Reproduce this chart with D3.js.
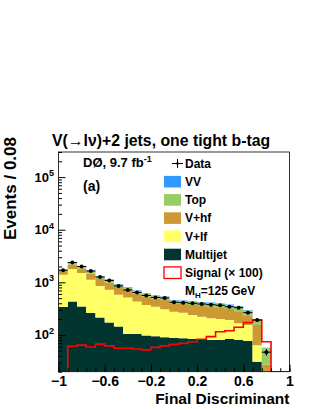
<!DOCTYPE html>
<html>
<head>
<meta charset="utf-8">
<script src="https://cdn.jsdelivr.net/npm/d3@7"></script>
<style>
  body { margin: 0; background: #fff; }
  text { font-family: "Liberation Sans", Arial, sans-serif; font-weight: bold; fill: #000; }
</style>
</head>
<body>
<svg id="chart"></svg>
<script>
// bins of width 0.08 from -1 to 1 (low edges)
var binLow = [-1, -0.92, -0.84, -0.76, -0.68, -0.6, -0.52, -0.44, -0.36, -0.28, -0.2, -0.12, -0.04,
              0.04, 0.12, 0.2, 0.28, 0.36, 0.44, 0.52, 0.6, 0.68, 0.76, 0.84, 0.92];
var binWidth = 0.08;

// background stack, bottom to top
var multijet = [340, 432, 347, 261, 214, 172, 145, 104, 104, 98, 94, 90, 87, 86, 84, 82, 80, 80, 84, 80, 77, 31, 2, 0, 0];
var vlf      = [1056, 1359, 1157, 861, 638, 552, 437, 411, 328, 273, 250, 217, 189, 179, 155, 140, 127, 121, 108, 86, 78, 33, 5, 0, 0];
var vhf      = [283, 391, 328, 350, 304, 269, 233, 200, 182, 167, 149, 154, 123, 122, 132, 133, 133, 124, 119, 107, 74, 91, 20, 0, 0];
var topq     = [75, 200, 168, 170, 135, 115, 95, 83, 70, 62, 57, 65, 53, 55, 52, 59, 65, 62, 60, 74, 62, 42, 29, 0, 0];
var vv       = [24, 52, 42, 37, 27, 24, 19, 17, 16, 14, 12, 12, 9, 10, 10, 9, 9, 9, 8, 8, 7, 4, 1, 0, 0];

var dataCounts = [1694, 2382, 2000, 1642, 1262, 1084, 852, 715, 641, 562, 515, 504, 417, 410, 399, 387, 376, 366, 344, 330, 265, 192, 47, 0, 0];
var signal100  = [0, 61, 64, 59, 67, 62, 56, 56, 54, 52, 58, 62, 66, 69, 74, 83, 93, 115, 120, 140, 171, 192, 74, 0, 0];

var xTicks = [-1, -0.6, -0.2, 0.2, 0.6, 1];
var yTicks = [1e2, 1e3, 1e4, 1e5];

var layers = [
  {name: "Multijet", values: multijet, color: "#023530"},
  {name: "V+lf", values: vlf, color: "#ffff66"},
  {name: "V+hf", values: vhf, color: "#cc9933"},
  {name: "Top", values: topq, color: "#99cc66"},
  {name: "VV", values: vv, color: "#3399ff"}
];

var screen = {width: 316, height: 409};
var frame = {left: 58.5, right: 289.5, top: 152, bottom: 371.7};

var svg = d3.select("#chart")
    .attr("width", screen.width)
    .attr("height", screen.height);

var xScale = d3.scaleLinear().domain([-1, 1]).range([frame.left, frame.right]);
var yScale = d3.scaleLog().domain([20, 3e5]).range([frame.bottom, frame.top]).clamp(true);

var ySafe = function(v) { return yScale(Math.max(v, 1e-3)); };

// build stacked table
var table = binLow.map(function(lo, i) {
  var row = {lo: lo};
  layers.forEach(function(l) { row[l.name] = l.values[i]; });
  return row;
});
var stack = d3.stack().keys(layers.map(function(l) { return l.name; }))(table);

var plot = svg.append("g");

// clip to the frame
svg.append("clipPath").attr("id", "frameclip")
  .append("rect")
  .attr("x", frame.left).attr("y", frame.top)
  .attr("width", frame.right - frame.left).attr("height", frame.bottom - frame.top);
plot.attr("clip-path", "url(#frameclip)");

var area = d3.area()
    .curve(d3.curveStepAfter)
    .x(function(d) { return xScale(d.x); })
    .y0(function(d) { return ySafe(d.y0); })
    .y1(function(d) { return ySafe(d.y1); });

stack.forEach(function(series, k) {
  var pts = series.map(function(d) { return {x: d.data.lo, y0: d[0], y1: d[1]}; });
  var last = pts[pts.length - 1];
  pts.push({x: last.x + binWidth, y0: last.y0, y1: last.y1});
  plot.append("path")
    .attr("d", area(pts))
    .attr("fill", layers[k].color)
    .attr("stroke", "none");
});

// signal x100 outline
var sigPts = binLow.map(function(lo, i) { return {x: lo, y: signal100[i]}; });
sigPts.push({x: 1, y: signal100[signal100.length - 1]});
var line = d3.line()
    .curve(d3.curveStepAfter)
    .x(function(d) { return xScale(d.x); })
    .y(function(d) { return ySafe(d.y); });
plot.append("path")
  .attr("d", line(sigPts))
  .attr("fill", "none")
  .attr("stroke", "#ff0000")
  .attr("stroke-width", 1.6);

// data points
var pts = binLow.map(function(lo, i) { return {lo: lo, n: dataCounts[i]}; })
  .filter(function(d) { return d.n > 0; });
var dg = plot.selectAll("g.data").data(pts).enter().append("g").classed("data", true);
dg.append("line")
  .attr("x1", function(d) { return xScale(d.lo); })
  .attr("x2", function(d) { return xScale(d.lo + binWidth); })
  .attr("y1", function(d) { return yScale(d.n); })
  .attr("y2", function(d) { return yScale(d.n); })
  .attr("stroke", "#000").attr("stroke-width", 1);
dg.append("line")
  .attr("x1", function(d) { return xScale(d.lo + binWidth / 2); })
  .attr("x2", function(d) { return xScale(d.lo + binWidth / 2); })
  .attr("y1", function(d) { return yScale(d.n + Math.sqrt(d.n)); })
  .attr("y2", function(d) { return yScale(d.n - Math.sqrt(d.n)); })
  .attr("stroke", "#000").attr("stroke-width", 1);
dg.append("circle")
  .attr("cx", function(d) { return xScale(d.lo + binWidth / 2); })
  .attr("cy", function(d) { return yScale(d.n); })
  .attr("r", 2)
  .attr("fill", "#000");

// frame
svg.append("rect")
  .attr("x", frame.left).attr("y", frame.top)
  .attr("width", frame.right - frame.left).attr("height", frame.bottom - frame.top)
  .attr("fill", "none").attr("stroke", "#000").attr("stroke-width", 0.8);

// x axis, ticks inside
var xMinor = binLow.concat([1]);
svg.append("g")
  .attr("transform", "translate(0," + frame.bottom + ")")
  .call(d3.axisBottom(xScale).tickValues(xMinor).tickSize(-3.5).tickFormat(""))
  .call(function(g) { g.select(".domain").remove(); });
var xAxis = svg.append("g")
  .attr("transform", "translate(0," + frame.bottom + ")")
  .call(d3.axisBottom(xScale).tickValues(xTicks).tickSize(-7).tickPadding(4)
        .tickFormat(function(d) { return String(d).replace("-", "\u2212"); }));
xAxis.select(".domain").remove();
xAxis.selectAll("text")
  .style("font-size", "14px")
  .style("font-family", "'Liberation Sans', Arial, sans-serif")
  .style("font-weight", "bold");

// y axis, ticks inside
var yMinor = [];
[10, 100, 1000, 10000, 100000].forEach(function(dec) {
  for (var m = 2; m <= 9; m++) { var v = dec * m; if (v >= 20 && v <= 3e5) yMinor.push(v); }
});
svg.append("g")
  .attr("transform", "translate(" + frame.left + ",0)")
  .call(d3.axisLeft(yScale).tickValues(yMinor).tickSize(-3.5).tickFormat(""))
  .call(function(g) { g.select(".domain").remove(); });
svg.append("g")
  .attr("transform", "translate(" + frame.left + ",0)")
  .call(d3.axisLeft(yScale).tickValues(yTicks).tickSize(-7).tickFormat(""))
  .call(function(g) { g.select(".domain").remove(); });

var yl = svg.append("g").selectAll("text").data(yTicks).enter().append("text")
  .attr("x", 50)
  .attr("y", function(d) { return yScale(d) + 4.5; })
  .attr("text-anchor", "end")
  .style("font-size", "13px");
yl.append("tspan").text("10");
yl.append("tspan")
  .attr("dy", -5.5)
  .style("font-size", "9px")
  .text(function(d) { return Math.round(Math.log10(d)); });
// superscript sits after "10"; shift whole label so base ends near axis
yl.attr("x", 54);

// titles
svg.append("text")
  .attr("x", 52).attr("y", 146)
  .style("font-size", "15.8px")
  .text("V(\u2192l\u03bd)+2 jets, one tight b-tag");

svg.append("text")
  .attr("transform", "translate(15.5,137) rotate(-90)")
  .attr("text-anchor", "end")
  .style("font-size", "17px")
  .text("Events / 0.08");

svg.append("text")
  .attr("x", 289.5).attr("y", 403.5)
  .attr("text-anchor", "end")
  .style("font-size", "15.5px")
  .text("Final Discriminant");

// experiment label
var lab = svg.append("text").attr("x", 83).attr("y", 167).style("font-size", "13px");
lab.append("tspan").text("D\u00d8, 9.7 fb");
lab.append("tspan").attr("dy", -5).style("font-size", "9px").text("-1");

svg.append("text").attr("x", 83).attr("y", 191).style("font-size", "14px").text("(a)");

// legend
var legendNames = ["Data", "VV", "Top", "V+hf", "V+lf", "Multijet", "Signal (\u00d7 100)"];
var legendFill = ["none", "#3399ff", "#99cc66", "#cc9933", "#ffff66", "#023530", "#fff"];
var rowY = function(i) { return 163.5 + i * 18.2; };

var entries = svg.append("g").selectAll("g").data(legendNames).enter().append("g")
  .attr("transform", function(d, i) { return "translate(0," + rowY(i) + ")"; });

entries.filter(function(d, i) { return i > 0; })
  .append("rect")
  .attr("x", 164).attr("y", -5.8).attr("width", 17).attr("height", 11.6)
  .attr("fill", function(d) { return legendFill[legendNames.indexOf(d)]; })
  .attr("stroke", function(d) { return d.indexOf("Signal") === 0 ? "#ff0000" : "none"; })
  .attr("stroke-width", 1.3);

var dataEntry = entries.filter(function(d, i) { return i === 0; });
dataEntry.append("line").attr("x1", 172).attr("x2", 183).attr("y1", 0).attr("y2", 0)
  .attr("stroke", "#000").attr("stroke-width", 1);
dataEntry.append("line").attr("x1", 177.5).attr("x2", 177.5).attr("y1", -4.5).attr("y2", 4.5)
  .attr("stroke", "#000").attr("stroke-width", 1);
dataEntry.append("circle").attr("cx", 177.5).attr("cy", 0).attr("r", 1.3).attr("fill", "#000");

entries.append("text")
  .attr("x", 185).attr("y", 4.3)
  .style("font-size", "12px")
  .text(function(d) { return d; });

var mh = svg.append("text").attr("x", 185).attr("y", rowY(7) + 4.3).style("font-size", "12px");
mh.append("tspan").text("M");
mh.append("tspan").attr("dy", 3).style("font-size", "8px").text("H");
mh.append("tspan").attr("dy", -3).text("=125 GeV");
</script>
</body>
</html>
